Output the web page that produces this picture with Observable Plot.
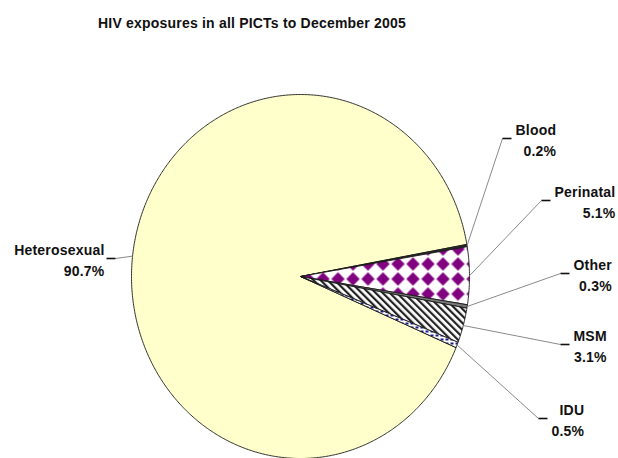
<!DOCTYPE html>
<html><head><meta charset="utf-8">
<script src="https://cdn.jsdelivr.net/npm/d3@7"></script>
<script src="https://cdn.jsdelivr.net/npm/@observablehq/plot@0.6"></script>
<style>
body{margin:0;background:#fff;}
#title{width:504px;height:46px;font:bold 14px "Liberation Sans",Arial,sans-serif;line-height:46px;text-align:center;letter-spacing:0.2px;color:#111;}
</style></head><body>
<div id="title">HIV exposures in all PICTs to December 2005</div>
<div id="chart"></div>
<script>
// ---- data ----
const categories = ["Heterosexual", "Blood", "Perinatal", "Other", "MSM", "IDU"];
const percents = [90.7, 0.2, 5.1, 0.3, 3.1, 0.5];
const percentLabels = ["90.7%", "0.2%", "5.1%", "0.3%", "3.1%", "0.5%"];

// ---- styles / layout ----
const fills = ["#FFFFCC", "#2a2a2a", "url(#diamonds)", "#7a7a7a", "url(#stripes)", "url(#idu)"];
const W = 618, H = 412;
const pie = {cx: 300, cy: 230, rx: 169, ry: 182, firstAngle: -23}; // math degrees, clockwise order
// label elbow points (where the grey leader meets the dark tick), in svg pixels
const elbowX = [115, 502, 541, 560, 560, 538];
const elbowY = [212, 92, 154, 227, 298, 372];
const side = [-1, 1, 1, 1, 1, 1];
const FONT = "'Liberation Sans', Arial, sans-serif";
const FS = 14, LS = 0.2, TICK = 9, GAP = 4;

const xs = Plot.scale({x: {domain: [-1, 1], range: [pie.cx - pie.rx, pie.cx + pie.rx]}});
const ys = Plot.scale({y: {domain: [-1, 1], range: [pie.cy + pie.ry, pie.cy - pie.ry]}});

const total = d3.sum(percents);
let a = pie.firstAngle;
const slices = categories.map((c, i) => {
  const span = percents[i] / total * 360;
  const s = {cat: c, a0: a, a1: a - span, mid: a - span / 2, fill: fills[i]};
  a -= span;
  return s;
});

const slicePts = slices.flatMap(s => {
  const n = Math.max(2, Math.ceil(Math.abs(s.a1 - s.a0) / 0.5));
  const pts = [{cat: s.cat, fill: s.fill, u: 0, v: 0}];
  for (let k = 0; k <= n; k++) {
    const t = (s.a0 + (s.a1 - s.a0) * k / n) * Math.PI / 180;
    pts.push({cat: s.cat, fill: s.fill, u: Math.cos(t), v: Math.sin(t)});
  }
  pts.push({cat: s.cat, fill: s.fill, u: 0, v: 0});
  return pts;
});

const ctx = document.createElement("canvas").getContext("2d");
ctx.font = `bold ${FS}px ${FONT}`;
const measure = t => ctx.measureText(t).width + LS * t.length;

const labels = slices.map((s, i) => {
  const t = s.mid * Math.PI / 180;
  const ex = elbowX[i], ey = elbowY[i];
  const tx = ex + side[i] * TICK;
  const lines = [categories[i], percentLabels[i]];
  const wmax = d3.max(lines, measure);
  const rightPx = side[i] > 0 ? tx + GAP + wmax : tx - 2;
  return {
    u0: Math.cos(t), v0: Math.sin(t),
    ue: xs.invert(ex), ve: ys.invert(ey),
    ut: xs.invert(tx),
    ur: xs.invert(rightPx),
    text: lines.join("\n")
  };
});

const svg = Plot.plot({
  width: W, height: H,
  margin: 0,
  x: {domain: [-1, 1], range: [pie.cx - pie.rx, pie.cx + pie.rx], axis: null},
  y: {domain: [-1, 1], range: [pie.cy + pie.ry, pie.cy - pie.ry], axis: null},
  color: {type: "identity"},
  style: {letterSpacing: LS + "px", background: "#fff"},
  marks: [
    Plot.line(slicePts, {x: "u", y: "v", z: "cat", fill: "fill", stroke: "#1a1a1a", strokeWidth: 0.9, strokeLinejoin: "round"}),
    Plot.link(labels, {x1: "u0", y1: "v0", x2: "ue", y2: "ve", stroke: "#8a8a8a", strokeWidth: 1}),
    Plot.link(labels, {x1: "ue", y1: "ve", x2: "ut", y2: "ve", stroke: "#111", strokeWidth: 1.6}),
    Plot.text(labels, {x: "ur", y: "ve", text: "text", textAnchor: "end", lineHeight: 1.54,
      fontSize: FS, fontWeight: "bold", fontFamily: FONT, fill: "#111"})
  ]
});

const defs = d3.select(svg).insert("defs", ":first-child");
const pd = defs.append("pattern").attr("id", "diamonds").attr("patternUnits", "userSpaceOnUse")
  .attr("width", 15).attr("height", 15);
pd.append("rect").attr("width", 15).attr("height", 15).attr("fill", "#fff");
pd.append("polygon").attr("points", "7.5,0.8 14.2,7.5 7.5,14.2 0.8,7.5").attr("fill", "#800080");
const ps = defs.append("pattern").attr("id", "stripes").attr("patternUnits", "userSpaceOnUse")
  .attr("width", 5).attr("height", 5).attr("patternTransform", "rotate(-45)");
ps.append("rect").attr("width", 5).attr("height", 5).attr("fill", "#fff");
ps.append("rect").attr("width", 2.2).attr("height", 5).attr("fill", "#222");
const pi = defs.append("pattern").attr("id", "idu").attr("patternUnits", "userSpaceOnUse")
  .attr("width", 5).attr("height", 4);
pi.append("rect").attr("width", 5).attr("height", 4).attr("fill", "#fff");
pi.append("rect").attr("width", 3).attr("height", 2).attr("fill", "#1c1c8f");

document.getElementById("chart").appendChild(svg);
</script>
</body></html>
